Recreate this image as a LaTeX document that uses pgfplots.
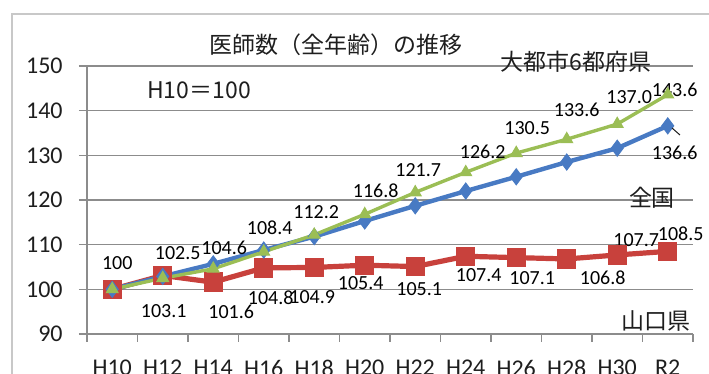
\documentclass[border=0pt]{standalone}
\usepackage{pgfplots}
\pgfplotsset{compat=1.18}
\usepackage{fontspec}
\setmainfont{Carlito}
\newfontfamily\jp{Noto Sans CJK JP}
\definecolor{cred}{RGB}{200,65,60}
\definecolor{cblue}{RGB}{72,122,195}
\definecolor{cgreen}{RGB}{155,190,85}
\definecolor{gridgray}{RGB}{140,140,140}
\definecolor{framegray}{RGB}{200,200,200}
\definecolor{txt}{RGB}{30,30,30}
\begin{document}
\begin{tikzpicture}[x=0.5pt,y=0.5pt]
\useasboundingbox (0,0) rectangle (709,374);
\clip (0,0) rectangle (709,374);
\draw[framegray, line width=1pt] (12,360) rectangle (730,-20);
\begin{axis}[
  at={(43.5pt,20pt)}, anchor=south west,
  scale only axis, width=303pt, height=134pt,
  xmin=-0.5, xmax=11.5, ymin=90, ymax=150,
  ytick={90,100,...,150},
  xtick={-0.5,0.5,...,11.5},
  x tick label as interval,
  xticklabels={H10,H12,H14,H16,H18,H20,H22,H24,H26,H28,H30,R2},
  axis x line*=bottom, axis y line*=left,
  axis line style={-, draw=gridgray, line width=0.8pt},
  tick align=outside, major tick length=4pt,
  tick style={draw=gridgray, line width=0.8pt},
  ymajorgrids, grid style={draw=gridgray, line width=0.8pt},
  ticklabel style={font=\fontsize{12}{14}\selectfont, text=txt},
  /pgf/number format/assume math mode=true,
  yticklabel style={anchor=east, inner sep=0pt, xshift=-8pt},
  xticklabel style={anchor=north, inner sep=0pt, yshift=-9pt},
  clip=false,
  every node/.style={font=\fontsize{11}{13}\selectfont, text=txt},
]
% 山口県
\addplot[cred, line width=2.6pt, mark=square*, mark size=4.6pt, mark options={fill=cred, draw=cred, line width=0.5pt}]
  coordinates {(0,100) (1,103.1) (2,101.6) (3,104.8) (4,104.9) (5,105.4) (6,105.1) (7,107.4) (8,107.1) (9,106.8) (10,107.7) (11,108.5)};
% 全国
\addplot[cblue, line width=2.2pt, mark=diamond*, mark size=4pt, mark options={fill=cblue, draw=cblue, line width=0.5pt}]
  coordinates {(0,100) (1,102.9) (2,105.7) (3,108.8) (4,111.8) (5,115.3) (6,118.7) (7,122.0) (8,125.2) (9,128.5) (10,131.6) (11,136.6)};
% 大都市6都府県
\addplot[cgreen, line width=1.7pt, mark=triangle*, mark size=3.4pt, mark options={fill=cgreen, draw=cgreen, line width=0.5pt}]
  coordinates {(0,100) (1,102.5) (2,104.6) (3,108.4) (4,112.2) (5,116.8) (6,121.7) (7,126.2) (8,130.5) (9,133.6) (10,137.0) (11,143.6)};
% green labels
\node[xshift=2.5pt, yshift=13.25pt] at (axis cs:0,100) {100};
\node[xshift=7.5pt, yshift=12.5pt] at (axis cs:1,102.5) {102.5};
\node[xshift=5.5pt, yshift=10.5pt] at (axis cs:2,104.6) {104.6};
\node[xshift=3pt, yshift=12pt] at (axis cs:3,108.4) {108.4};
\node[xshift=1pt, yshift=11.5pt] at (axis cs:4,112.2) {112.2};
\node[xshift=5.5pt, yshift=12pt] at (axis cs:5,116.8) {116.8};
\node[xshift=1.5pt, yshift=11pt] at (axis cs:6,121.7) {121.7};
\node[xshift=8.5pt, yshift=10pt] at (axis cs:7,126.2) {126.2};
\node[xshift=5.5pt, yshift=12.5pt] at (axis cs:8,130.5) {130.5};
\node[xshift=5pt, yshift=14.5pt] at (axis cs:9,133.6) {133.6};
\node[xshift=6pt, yshift=13.5pt] at (axis cs:10,137.0) {137.0};
\node[xshift=3.5pt, yshift=2.5pt] at (axis cs:11,143.6) {143.6};
% red labels
\node[xshift=0.5pt, yshift=-18pt] at (axis cs:1,103.1) {103.1};
\node[xshift=9pt, yshift=-15pt] at (axis cs:2,101.6) {101.6};
\node[xshift=3.5pt, yshift=-15pt] at (axis cs:3,104.8) {104.8};
\node[xshift=-1pt, yshift=-15pt] at (axis cs:4,104.9) {104.9};
\node[xshift=-2pt, yshift=-9pt] at (axis cs:5,105.4) {105.4};
\node[xshift=2pt, yshift=-11.5pt] at (axis cs:6,105.1) {105.1};
\node[xshift=6.5pt, yshift=-9.5pt] at (axis cs:7,107.4) {107.4};
\node[xshift=8pt, yshift=-10pt] at (axis cs:8,107.1) {107.1};
\node[xshift=18pt, yshift=-9.5pt] at (axis cs:9,106.8) {106.8};
\node[xshift=9.5pt, yshift=7.5pt] at (axis cs:10,107.7) {107.7};
\node[xshift=6.5pt, yshift=9pt] at (axis cs:11,108.5) {108.5};
% blue label
\node[xshift=3.5pt, yshift=-13.5pt] at (axis cs:11,136.6) {136.6};
\end{axis}
\draw[txt, line width=0.5pt] (672,246) -- (680,239);
\node[font=\jp\fontsize{11.5}{14}\selectfont, text=txt] at (336.5,329) {医師数（全年齢）の推移};
\node[font=\jp\fontsize{11.5}{13}\selectfont, text=txt] at (199,284) {H10＝100};
\node[font=\jp\fontsize{11.5}{13}\selectfont, text=txt] at (576,312) {大都市6都府県};
\node[font=\jp\fontsize{11.5}{13}\selectfont, text=txt] at (652,176) {全国};
\node[font=\jp\fontsize{11.5}{13}\selectfont, text=txt] at (656,53) {山口県};
\end{tikzpicture}
\end{document}
